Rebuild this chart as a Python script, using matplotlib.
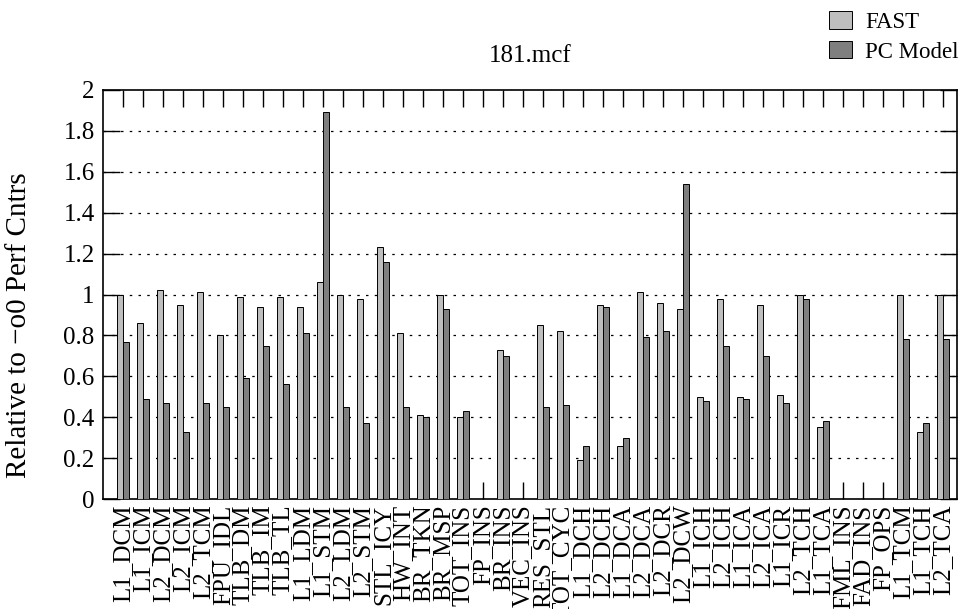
import matplotlib.pyplot as plt
import numpy as np

plt.rcParams['font.family'] = ['Liberation Serif', 'DejaVu Serif']

categories = ['L1_DCM', 'L1_ICM', 'L2_DCM', 'L2_ICM', 'L2_TCM', 'FPU_IDL', 'TLB_DM',
              'TLB_IM', 'TLB_TL', 'L1_LDM', 'L1_STM', 'L2_LDM', 'L2_STM', 'STL_ICY',
              'HW_INT', 'BR_TKN', 'BR_MSP', 'TOT_INS', 'FP_INS', 'BR_INS', 'VEC_INS',
              'RES_STL', 'TOT_CYC', 'L1_DCH', 'L2_DCH', 'L1_DCA', 'L2_DCA', 'L2_DCR',
              'L2_DCW', 'L1_ICH', 'L2_ICH', 'L1_ICA', 'L2_ICA', 'L1_ICR', 'L2_TCH',
              'L1_TCA', 'FML_INS', 'FAD_INS', 'FP_OPS', 'L1_TCM', 'L1_TCH', 'L2_TCA']
fast = [1.00, 0.86, 1.02, 0.95, 1.01, 0.80, 0.99, 0.94, 0.99, 0.94, 1.06, 1.00, 0.98, 1.23,
        0.81, 0.41, 1.00, 0.40, 0.00, 0.73, 0.00, 0.85, 0.82, 0.19, 0.95, 0.26, 1.01, 0.96,
        0.93, 0.50, 0.98, 0.50, 0.95, 0.51, 1.00, 0.35, 0.00, 0.00, 0.00, 1.00, 0.33, 1.00]
pc_model = [0.77, 0.49, 0.47, 0.33, 0.47, 0.45, 0.59, 0.75, 0.56, 0.81, 1.89, 0.45, 0.37, 1.16,
            0.45, 0.40, 0.93, 0.43, 0.00, 0.70, 0.00, 0.45, 0.46, 0.26, 0.94, 0.30, 0.79, 0.82,
            1.54, 0.48, 0.75, 0.49, 0.70, 0.47, 0.98, 0.38, 0.00, 0.00, 0.00, 0.78, 0.37, 0.78]
yticks = [0, 0.2, 0.4, 0.6, 0.8, 1, 1.2, 1.4, 1.6, 1.8, 2]
ylabels = ['0', '0.2', '0.4', '0.6', '0.8', '1', '1.2', '1.4', '1.6', '1.8', '2']

fig = plt.figure(figsize=(9.6, 6.09), dpi=100)
ax = fig.add_axes([103/960, 110/609, 854/960, 409/609])

x = np.arange(1, len(categories) + 1)
w = 0.3
fast_h = np.array(fast)
pc_h = np.array(pc_model)
# groups without data get no bars at all
mf = fast_h > 0
mp = pc_h > 0
ax.bar(x[mf] - w/2, fast_h[mf], w, color='#bebebe', edgecolor='black', linewidth=0.7, label='FAST', zorder=3)
ax.bar(x[mp] + w/2, pc_h[mp], w, color='#7f7f7f', edgecolor='black', linewidth=0.7, label='PC Model', zorder=3)

ax.set_xlim(0, 42.7)
ax.set_ylim(0, 2)
ax.set_yticks(yticks)
ax.set_yticklabels(ylabels)
ax.set_xticks(x)
ax.set_xticklabels(categories, rotation=90, va='top', ha='center', fontsize=21)
ax.tick_params(axis='both', direction='in', length=12, width=1, labelsize=18,
               top=True, right=True)
ax.tick_params(axis='x', pad=4)
ax.tick_params(axis='y', pad=6)
for s in ax.spines.values():
    s.set_linewidth(1.2)

for yv in yticks[1:-1]:
    ax.axhline(yv, color='black', linestyle=(0, (2, 5)), linewidth=0.9, zorder=1)

ax.set_title('181.mcf', fontsize=18, pad=20)
fig.text(19/960, 1 - 325/609, 'Relative to \u2212o0 Perf Cntrs', rotation=90,
         ha='center', va='center', fontsize=21)

fig.legend(loc='upper right', bbox_to_anchor=(1.018, 1.012), frameon=False, fontsize=16.5,
           handlelength=1.0, handleheight=0.8, handletextpad=0.6, labelspacing=0.35,
           borderpad=0.3)

fig.savefig('out.png', dpi=100)
